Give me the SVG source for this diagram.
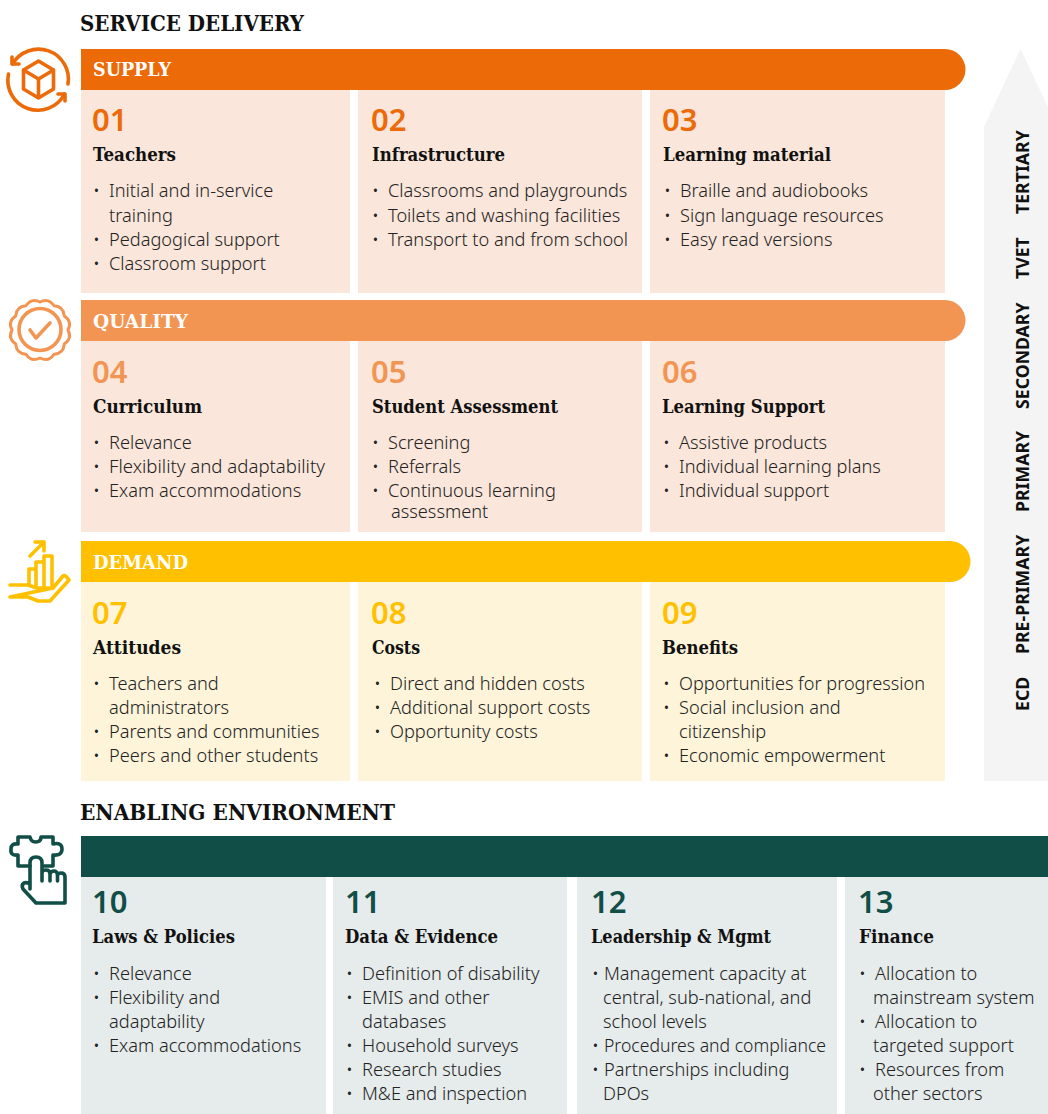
<svg xmlns="http://www.w3.org/2000/svg" width="1048" height="1114" viewBox="0 0 1048 1114">
<style>
text{font-family:"Noto Sans","Open Sans","Liberation Sans",sans-serif}
.h{font-family:"DejaVu Serif","Liberation Serif",serif;font-weight:700;fill:#111}
.sec{font-size:22.500px}
.bar{font-size:19px;fill:#fff}
.t{font-size:19px}
.n{font-size:31px;font-weight:600}
.b{font-size:18.200px;font-weight:300;fill:#222}
.v{font-size:17.700px;font-weight:700;fill:#111}
.ic{fill:none;stroke-width:3.600;stroke-linecap:round;stroke-linejoin:round}
.s1{stroke:#ec6a08}.s2{stroke:#f29552}.s3{stroke:#ffc000}.s4{stroke:#114e47}
</style>
<polygon id="levels-arrow" points="984,781 984,127 1020.500,49 1048,107 1048,781" fill="#f4f4f4"/>
<g id="levels">
<text class="v" transform="translate(1029,214) rotate(-90)">TERTIARY</text>
<text class="v" transform="translate(1029,279) rotate(-90)">TVET</text>
<text class="v" transform="translate(1029,409) rotate(-90)">SECONDARY</text>
<text class="v" transform="translate(1029,512) rotate(-90)">PRIMARY</text>
<text class="v" transform="translate(1029,654) rotate(-90)">PRE-PRIMARY</text>
<text class="v" transform="translate(1029,711) rotate(-90)">ECD</text>
</g>
<text class="h sec" x="80" y="31" textLength="224" lengthAdjust="spacingAndGlyphs">SERVICE DELIVERY</text>
<text class="h sec" x="80" y="820" textLength="315" lengthAdjust="spacingAndGlyphs">ENABLING ENVIRONMENT</text>

<g id="icon-supply">
<path class="ic s1" d="M12.500 64A30 30 0 0 1 68 84M64.500 94A30 30 0 0 1 8.500 74"/>
<path class="ic s1" d="M12 57V64H19M65 101V94H58"/>
<path class="ic s1" d="M38.500 61l15 9v19l-15 9-15-9V70zM23.500 70l15 9 15-9M38.500 79v19"/>
</g>
<g id="supply">
<path d="M81 49H945a20.500 20.500 0 0 1 0 41H81z" fill="#ec6a08"/>
<text class="h bar" x="93" y="76" textLength="78" lengthAdjust="spacingAndGlyphs">SUPPLY</text>
</g>
<g id="node-01"><rect x="81" y="90" width="269" height="203" fill="#fae6da"/>
<text class="n" x="92" y="131" fill="#ec6a08">01</text>
<text class="h t" x="93" y="161" textLength="83" lengthAdjust="spacingAndGlyphs">Teachers</text>
<text class="b" x="93" y="197">•</text><text class="b" x="109" y="197">Initial and in-service</text><text class="b" x="109" y="222">training</text>
<text class="b" x="93" y="246">•</text><text class="b" x="109" y="246">Pedagogical support</text>
<text class="b" x="93" y="270">•</text><text class="b" x="109" y="270">Classroom support</text></g>
<g id="node-02"><rect x="358" y="90" width="284" height="203" fill="#fae6da"/>
<text class="n" x="371" y="131" fill="#ec6a08">02</text>
<text class="h t" x="372" y="161" textLength="133" lengthAdjust="spacingAndGlyphs">Infrastructure</text>
<text class="b" x="372" y="197">•</text><text class="b" x="388" y="197">Classrooms and playgrounds</text>
<text class="b" x="372" y="222">•</text><text class="b" x="388" y="222">Toilets and washing facilities</text>
<text class="b" x="372" y="246">•</text><text class="b" x="388" y="246">Transport to and from school</text></g>
<g id="node-03"><rect x="650" y="90" width="295" height="203" fill="#fae6da"/>
<text class="n" x="662" y="131" fill="#ec6a08">03</text>
<text class="h t" x="663" y="161" textLength="168" lengthAdjust="spacingAndGlyphs">Learning material</text>
<text class="b" x="664" y="197">•</text><text class="b" x="680" y="197">Braille and audiobooks</text>
<text class="b" x="664" y="222">•</text><text class="b" x="680" y="222">Sign language resources</text>
<text class="b" x="664" y="246">•</text><text class="b" x="680" y="246">Easy read versions</text></g>

<g id="icon-quality">
<path class="ic s2" style="stroke-width:3" d="M68 330Q72.360 338.670 64.250 344Q63.690 353.690 54 354.250Q48.670 362.360 40 358Q31.330 362.360 26 354.250Q16.310 353.690 15.750 344Q7.640 338.670 12 330Q7.640 321.330 15.750 316Q16.310 306.310 26 305.750Q31.330 297.640 40 302Q48.670 297.640 54 305.750Q63.690 306.310 64.250 316Q72.360 321.330 68 330Z"/>
<circle class="ic s2" cx="40" cy="329.500" r="21"/>
<path class="ic s2" d="M30 330l6 8 14-15"/>
</g>
<g id="quality">
<path d="M81 300H945a20.500 20.500 0 0 1 0 41H81z" fill="#f29552"/>
<text class="h bar" x="93" y="328" textLength="95" lengthAdjust="spacingAndGlyphs">QUALITY</text>
</g>
<g id="node-04"><rect x="81" y="341" width="269" height="191" fill="#fae6da"/>
<text class="n" x="92" y="383" fill="#f29552">04</text>
<text class="h t" x="93" y="413" textLength="109" lengthAdjust="spacingAndGlyphs">Curriculum</text>
<text class="b" x="93" y="449">•</text><text class="b" x="109" y="449">Relevance</text>
<text class="b" x="93" y="473">•</text><text class="b" x="109" y="473" textLength="216" lengthAdjust="spacingAndGlyphs">Flexibility and adaptability</text>
<text class="b" x="93" y="497">•</text><text class="b" x="109" y="497">Exam accommodations</text></g>
<g id="node-05"><rect x="358" y="341" width="284" height="191" fill="#fae6da"/>
<text class="n" x="371" y="383" fill="#f29552">05</text>
<text class="h t" x="372" y="413" textLength="186" lengthAdjust="spacingAndGlyphs">Student Assessment</text>
<text class="b" x="372" y="449">•</text><text class="b" x="388" y="449">Screening</text>
<text class="b" x="372" y="473">•</text><text class="b" x="388" y="473">Referrals</text>
<text class="b" x="372" y="497">•</text><text class="b" x="388" y="497">Continuous learning</text><text class="b" x="391" y="518">assessment</text></g>
<g id="node-06"><rect x="650" y="341" width="295" height="191" fill="#fae6da"/>
<text class="n" x="662" y="383" fill="#f29552">06</text>
<text class="h t" x="662" y="413" textLength="163" lengthAdjust="spacingAndGlyphs">Learning Support</text>
<text class="b" x="663" y="449">•</text><text class="b" x="679" y="449">Assistive products</text>
<text class="b" x="663" y="473">•</text><text class="b" x="679" y="473">Individual learning plans</text>
<text class="b" x="663" y="497">•</text><text class="b" x="679" y="497">Individual support</text></g>

<g id="icon-demand">
<path class="ic s3" d="M30 556L44 542M35 542H44V551"/>
<path class="ic s3" d="M29 585V569H36V586M36 569V562H44V587M44 562V556H52V587"/>
<path class="ic s3" d="M10 585H28L37 588H53M53 588L63 576Q65 574 69 580L50 601H38L28 597H10Z"/>
</g>
<g id="demand">
<path d="M81 541H950a20.500 20.500 0 0 1 0 41H81z" fill="#ffc000"/>
<text class="h bar" x="93" y="569" textLength="95" lengthAdjust="spacingAndGlyphs">DEMAND</text>
</g>
<g id="node-07"><rect x="81" y="582" width="269" height="199" fill="#fdf4da"/>
<text class="n" x="92" y="624" fill="#ffc000">07</text>
<text class="h t" x="93" y="654" textLength="88" lengthAdjust="spacingAndGlyphs">Attitudes</text>
<text class="b" x="93" y="690">•</text><text class="b" x="109" y="690">Teachers and</text><text class="b" x="109" y="714">administrators</text>
<text class="b" x="93" y="738">•</text><text class="b" x="109" y="738">Parents and communities</text>
<text class="b" x="93" y="762">•</text><text class="b" x="109" y="762">Peers and other students</text></g>
<g id="node-08"><rect x="358" y="582" width="284" height="199" fill="#fdf4da"/>
<text class="n" x="371" y="624" fill="#ffc000">08</text>
<text class="h t" x="372" y="654" textLength="48" lengthAdjust="spacingAndGlyphs">Costs</text>
<text class="b" x="374" y="690">•</text><text class="b" x="390" y="690">Direct and hidden costs</text>
<text class="b" x="374" y="714">•</text><text class="b" x="390" y="714">Additional support costs</text>
<text class="b" x="374" y="738">•</text><text class="b" x="390" y="738">Opportunity costs</text></g>
<g id="node-09"><rect x="650" y="582" width="295" height="199" fill="#fdf4da"/>
<text class="n" x="662" y="624" fill="#ffc000">09</text>
<text class="h t" x="662" y="654" textLength="76" lengthAdjust="spacingAndGlyphs">Benefits</text>
<text class="b" x="663" y="690">•</text><text class="b" x="679" y="690" textLength="246" lengthAdjust="spacingAndGlyphs">Opportunities for progression</text>
<text class="b" x="663" y="714">•</text><text class="b" x="679" y="714">Social inclusion and</text><text class="b" x="679" y="738">citizenship</text>
<text class="b" x="663" y="762">•</text><text class="b" x="679" y="762">Economic empowerment</text></g>

<g id="icon-enabling">
<path class="ic s4" d="M30 866H18V855Q10 856 11 849Q11 843 18 844V837H30Q31 842 35.500 842Q41 842 41 837H53V844Q62 842 62 849Q62 856 53 855V866H44"/>
<path class="ic s4" d="M30 884V863Q30 857 36 857Q42 857 42 863V881M42 873Q42 870 46 870Q50 870 50 874V881M50 874Q51 871 54 871Q57 871 57.500 875V881M57.500 875Q58 873 61 873Q65 873 65 877V903H36L23 889Q21 885 24 883Q27 882 30 884V889"/>
</g>
<g id="enabling-bar"><rect x="81" y="836" width="967" height="41" fill="#114e47"/></g>
<g id="node-10"><rect x="81" y="877" width="245" height="237" fill="#e6ebeb"/>
<text class="n" x="92" y="913" fill="#114e47">10</text>
<text class="h t" x="92" y="943" textLength="143" lengthAdjust="spacingAndGlyphs">Laws &amp; Policies</text>
<text class="b" x="93" y="980">•</text><text class="b" x="109" y="980">Relevance</text>
<text class="b" x="93" y="1004">•</text><text class="b" x="109" y="1004">Flexibility and</text><text class="b" x="109" y="1028">adaptability</text>
<text class="b" x="93" y="1052">•</text><text class="b" x="109" y="1052">Exam accommodations</text></g>
<g id="node-11"><rect x="333" y="877" width="234" height="237" fill="#e6ebeb"/>
<text class="n" x="345" y="913" fill="#114e47">11</text>
<text class="h t" x="345" y="943" textLength="153" lengthAdjust="spacingAndGlyphs">Data &amp; Evidence</text>
<text class="b" x="346" y="980">•</text><text class="b" x="362" y="980">Definition of disability</text>
<text class="b" x="346" y="1004">•</text><text class="b" x="362" y="1004">EMIS and other</text><text class="b" x="362" y="1028">databases</text>
<text class="b" x="346" y="1052">•</text><text class="b" x="362" y="1052">Household surveys</text>
<text class="b" x="346" y="1076">•</text><text class="b" x="362" y="1076">Research studies</text>
<text class="b" x="346" y="1100">•</text><text class="b" x="362" y="1100">M&amp;E and inspection</text></g>
<g id="node-12"><rect x="577" y="877" width="260" height="237" fill="#e6ebeb"/>
<text class="n" x="591" y="913" fill="#114e47">12</text>
<text class="h t" x="591" y="943" textLength="180" lengthAdjust="spacingAndGlyphs">Leadership &amp; Mgmt</text>
<text class="b" x="592" y="980">•</text><text class="b" x="604" y="980">Management capacity at</text><text class="b" x="603" y="1004">central, sub-national, and</text><text class="b" x="603" y="1028">school levels</text>
<text class="b" x="592" y="1052">•</text><text class="b" x="604" y="1052" textLength="222" lengthAdjust="spacingAndGlyphs">Procedures and compliance</text>
<text class="b" x="592" y="1076">•</text><text class="b" x="604" y="1076">Partnerships including</text><text class="b" x="603" y="1100">DPOs</text></g>
<g id="node-13"><rect x="845" y="877" width="203" height="237" fill="#e6ebeb"/>
<text class="n" x="858" y="913" fill="#114e47">13</text>
<text class="h t" x="859" y="943" textLength="75" lengthAdjust="spacingAndGlyphs">Finance</text>
<text class="b" x="859" y="980">•</text><text class="b" x="875" y="980">Allocation to</text><text class="b" x="873" y="1004">mainstream system</text>
<text class="b" x="859" y="1028">•</text><text class="b" x="875" y="1028">Allocation to</text><text class="b" x="873" y="1052">targeted support</text>
<text class="b" x="859" y="1076">•</text><text class="b" x="875" y="1076">Resources from</text><text class="b" x="873" y="1100">other sectors</text></g>
</svg>
